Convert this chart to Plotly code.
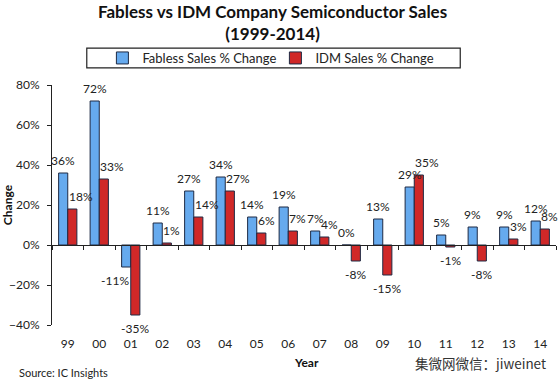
import plotly.graph_objects as go

years = ["99", "00", "01", "02", "03", "04", "05", "06", "07", "08", "09", "10", "11", "12", "13", "14"]
fabless = [36, 72, -11, 11, 27, 34, 14, 19, 7, 0, 13, 29, 5, 9, 9, 12]
idm = [18, 33, -35, 1, 14, 27, 6, 7, 4, -8, -15, 35, -1, -8, 3, 8]

FONT = "Lato"
BLUE = "#66AAEE"
RED = "#D02828"
OUT = "#1E2A44"

fig = go.Figure()
fig.add_trace(go.Bar(
    x=years, y=fabless, name="Fabless Sales % Change",
    marker=dict(color=BLUE, line=dict(color=OUT, width=1)),
))
fig.add_trace(go.Bar(
    x=years, y=idm, name="IDM Sales % Change",
    marker=dict(color=RED, line=dict(color=OUT, width=1)),
))
# invisible trace to carry the zero-line tick axis
fig.add_trace(go.Scatter(x=years, y=[0] * len(years), xaxis="x2", mode="markers",
                         marker=dict(opacity=0), showlegend=False, hoverinfo="skip"))

ymin, ymax = -40, 80
zero_frac = (0 - ymin) / (ymax - ymin)

label_font = dict(family=FONT, size=12, color="#222")
annotations = []
for i, v in enumerate(fabless):
    if v >= 0:
        a = dict(xanchor="center", xshift=-4.5, yshift=13)
    else:
        a = dict(xanchor="right", xshift=0, yshift=-13)
    annotations.append(dict(x=i, y=v, xref="x", yref="y", text=f"{v}%", showarrow=False,
                            yanchor="middle", font=label_font, **a))
for i, v in enumerate(idm):
    if v >= 0:
        a = dict(xanchor="left", xshift=-1, yshift=13)
    else:
        a = dict(xanchor="center", xshift=4.5, yshift=-13)
    annotations.append(dict(x=i, y=v, xref="x", yref="y", text=f"{v}%", showarrow=False,
                            yanchor="middle", font=label_font, **a))

annotations += [
    dict(text="<b>Fabless vs IDM Company Semiconductor Sales<br>(1999-2014)</b>",
         xref="paper", yref="paper", x=0.438, y=1.358, xanchor="center", yanchor="top",
         showarrow=False, font=dict(family=FONT, size=17, color="#111")),
    dict(text="<b>Change</b>", xref="paper", yref="paper", x=-0.089, y=0.5,
         xanchor="center", yanchor="middle",
         textangle=-90, showarrow=False, font=dict(family=FONT, size=12, color="#111")),
    dict(text="<b>Year</b>", xref="paper", yref="paper", x=0.504, y=-0.158,
         xanchor="center", yanchor="middle",
         showarrow=False, font=dict(family=FONT, size=12, color="#111")),
    dict(text="Source: IC Insights", xref="paper", yref="paper", x=-0.069, y=-0.196,
         xanchor="left", yanchor="middle", showarrow=False,
         font=dict(family=FONT, size=11, color="#222")),
    dict(text="集微网微信：jiweinet", xref="paper", yref="paper", x=0.984, y=-0.158,
         xanchor="right", yanchor="middle", showarrow=False,
         font=dict(family="Noto Sans CJK SC", size=13.5, color="#333")),
]

fig.update_layout(
    width=559, height=380,
    margin=dict(l=52, r=3, t=85, b=55),
    paper_bgcolor="white", plot_bgcolor="white",
    font=dict(family=FONT, size=12, color="#222"),
    barmode="group", bargap=0.42, bargroupgap=0.0,
    showlegend=True,
    legend=dict(orientation="h", x=0.1, xanchor="left", y=1.1125, yanchor="middle",
                font=dict(family=FONT, size=13, color="#222"),
                entrywidth=128, entrywidthmode="pixels",
                bgcolor="rgba(0,0,0,0)", borderwidth=0, itemclick=False),
    xaxis=dict(type="category", range=[-0.5, 15.5], showline=False, ticks="",
               showgrid=False, ticklabelstandoff=10,
               tickfont=dict(family=FONT, size=12, color="#222")),
    xaxis2=dict(type="category", overlaying="x", anchor="free", position=zero_frac,
                range=[-0.5, 15.5], showline=True, linecolor="#222", linewidth=1,
                ticks="outside", tickson="boundaries", ticklen=4, tickcolor="#222",
                showticklabels=False, showgrid=False, side="bottom"),
    yaxis=dict(range=[ymin, ymax], dtick=20, ticksuffix="%", showgrid=False,
               zeroline=False, showline=True, linecolor="#222", linewidth=1,
               ticks="outside", ticklen=4, tickcolor="#222", ticklabelstandoff=5,
               tickfont=dict(family=FONT, size=12, color="#222")),
    shapes=[dict(type="rect", xref="paper", yref="paper", x0=0.069, x1=0.81,
                 y0=1.071, y1=1.154, line=dict(color="#222", width=1.2))],
    annotations=annotations,
)

fig.write_html("out.html", config={"displayModeBar": False},
               post_script="document.body.style.margin='0';document.body.style.overflow='hidden';")
